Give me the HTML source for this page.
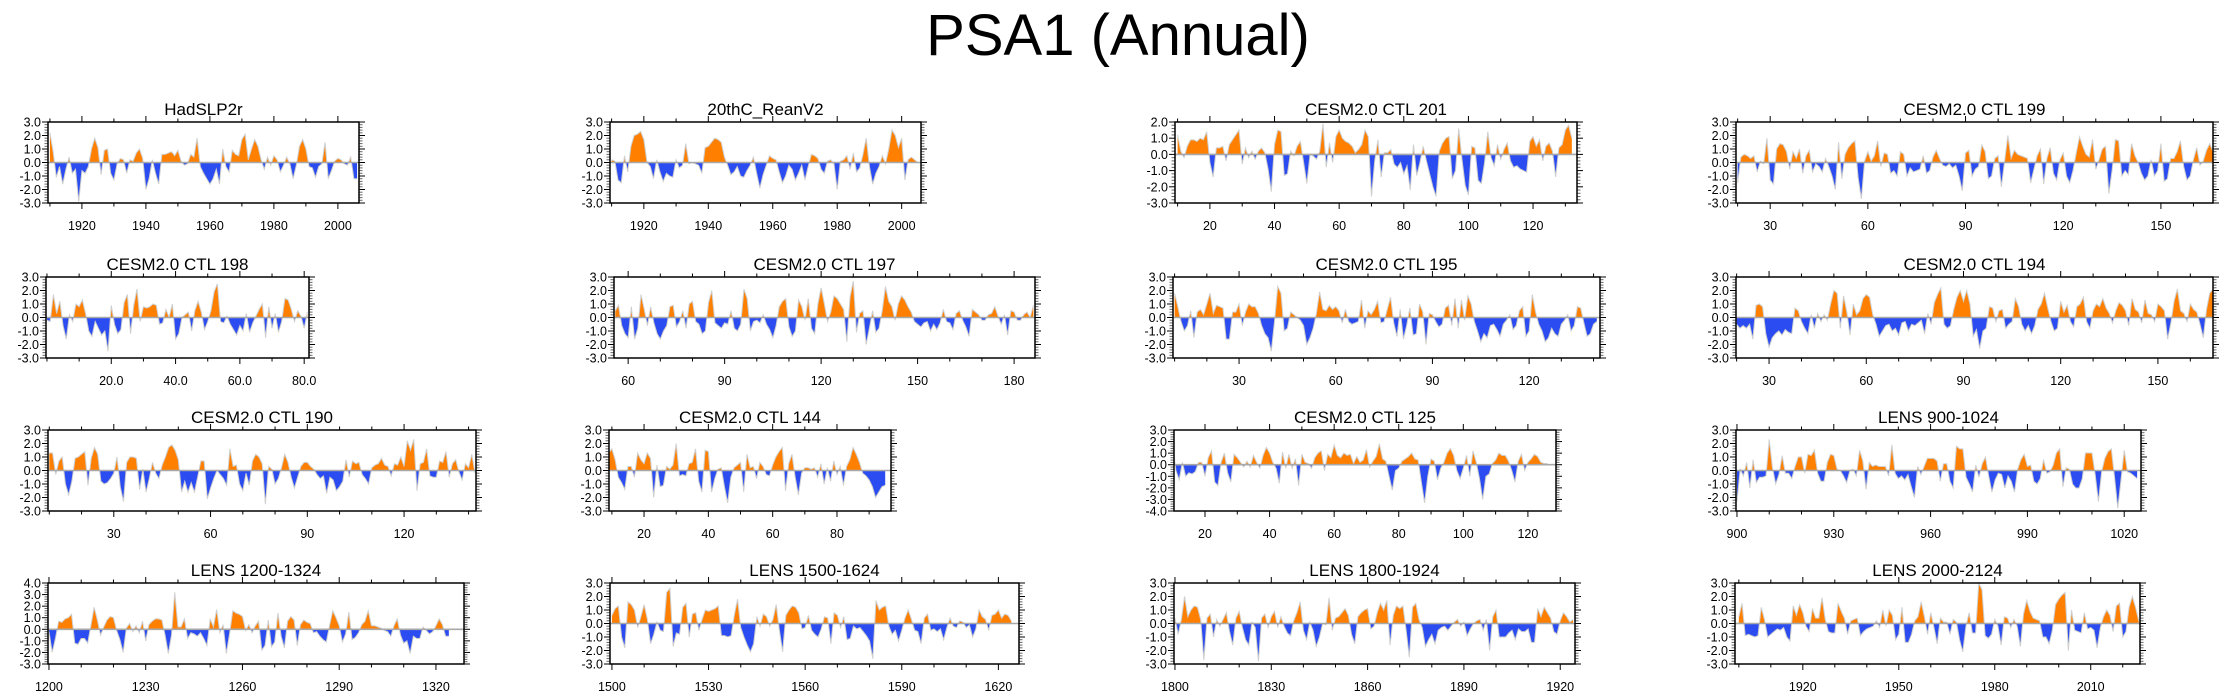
<!DOCTYPE html>
<html><head><meta charset="utf-8"><title>PSA1 (Annual)</title>
<style>
html,body{margin:0;padding:0;background:#fff;}
svg{display:block;font-family:"Liberation Sans",Arial,sans-serif;}
</style></head>
<body>
<svg id="chart" width="2237" height="698" viewBox="0 0 2237 698" xmlns="http://www.w3.org/2000/svg">
<text x="1118" y="55" font-size="58" text-anchor="middle" fill="#000">PSA1 (Annual)</text>
<g id="panels"></g>
</svg>
<script>
// ---- data (one series per panel, annual values) ----
const titles = ["HadSLP2r","20thC_ReanV2","CESM2.0 CTL 201","CESM2.0 CTL 199","CESM2.0 CTL 198","CESM2.0 CTL 197","CESM2.0 CTL 195","CESM2.0 CTL 194","CESM2.0 CTL 190","CESM2.0 CTL 144","CESM2.0 CTL 125","LENS 900-1024","LENS 1200-1324","LENS 1500-1624","LENS 1800-1924","LENS 2000-2124"];
const startYears = [1910,1910,10,20,0,56,10,20,10,9,10,900,1200,1500,1800,1900];
const yRanges = [[-3,3],[-3,3],[-3,2],[-3,3],[-3,3],[-3,3],[-3,3],[-3,3],[-3,3],[-3,3],[-4,3],[-3,3],[-3,4],[-3,3],[-3,3],[-3,3]];
const xRanges = [[1909.4,2006.6],[1909.5,2006],[9.2,133.6],[19.5,166],[-0.3,81.5],[55.6,186.5],[9.5,142],[19.8,167],[9.6,142.3],[9.1,96.8],[10.4,128.7],[899.7,1025.2],[1199.7,1328.7],[1499.4,1626.4],[1799.7,1924.6],[1898.8,2025.4]];
const majorSteps = [20,20,20,30,20,30,30,30,30,20,20,30,30,30,30,30];
const labelDecimals = [0,0,0,0,1,0,0,0,0,0,0,0,0,0,0,0];
const firstLabels = [1920,1920,20,30,20,60,30,30,30,20,20,900,1200,1500,1800,1920];

const v0 = [2.2,0.8,-1.1,-0.3,-1.6,-0.5,0.4,-0.8,-0.5,-2.9,-0.6,-0.8,-0.3,1.0,1.8,1.1,-0.9,0.9,1.0,-0.8,-1.3,-0.1,0.3,0.2,-0.8,0.2,0.1,0.7,1.0,0.3,-2.0,-1.2,0.2,-0.8,-1.6,0.6,0.6,0.7,0.8,0.5,0.9,0.1,-0.2,-0.1,0.6,0.4,1.8,-0.3,-0.8,-1.2,-1.6,-1.2,-0.5,-1.6,1.0,-0.3,-0.7,0.9,0.6,0.5,1.7,2.1,0.2,1.0,1.7,1.2,0.2,-0.5,0.4,-0.2,0.5,0.2,-0.7,-0.2,0.4,-0.1,-1.2,-0.2,1.2,1.7,1.0,-0.3,-0.4,-1.1,-0.3,-0.1,1.5,-1.2,-0.6,0.1,0.3,0.2,-0.1,-0.2,0.4,-1.2,-1.2];
const v1 = [0.2,0.1,-1.3,-1.5,0.5,-0.7,1.2,2.0,2.1,2.3,1.7,0.0,-0.3,-1.2,0.2,-0.7,-1.4,-0.8,-1.0,-1.1,0.2,-0.4,-0.2,1.4,-0.1,0.0,-0.1,-0.2,-0.8,1.1,1.2,1.5,1.8,1.7,1.5,0.4,-0.2,-0.9,-0.7,-0.3,-1.0,-1.1,-0.6,-0.2,0.4,-0.8,-1.9,-0.9,-0.2,0.5,0.3,0.2,-0.7,-1.5,-1.0,-0.2,-0.5,-1.3,-0.8,-0.2,-1.3,-0.3,0.6,0.5,0.3,-0.5,-0.8,0.1,0.2,-0.1,-2.0,0.1,0.2,0.5,-0.5,0.7,-0.7,-0.4,0.6,1.8,-0.3,-1.6,-0.8,-0.3,0.5,-0.1,1.0,2.4,2.0,1.1,1.8,-1.3,0.2,0.4,0.2,0.0];
const v2 = [1.2,0.2,-0.2,0.5,0.9,0.9,0.8,1.0,0.9,1.4,-0.5,-1.4,0.4,0.4,0.5,-0.4,0.6,0.9,1.2,1.5,-0.6,0.4,-0.2,0.2,-0.3,0.2,0.4,0.1,-0.9,-2.3,0.6,1.5,1.4,-1.3,-1.2,0.2,-0.1,0.5,0.8,-0.5,-1.8,0.0,-0.1,-0.3,0.2,1.9,-0.8,0.7,-0.5,1.1,1.5,1.0,0.8,0.7,0.5,0.1,0.3,0.6,1.5,1.1,-2.6,-0.4,0.9,-1.4,0.1,0.1,0.3,-0.6,-0.8,-0.5,-1.2,-0.7,-2.2,0.6,-1.3,-0.5,0.5,-0.4,-1.2,-2.0,-2.6,0.2,0.7,1.0,1.1,-1.5,-1.0,1.6,-0.3,-1.9,-2.5,0.5,0.4,-1.6,-1.8,-0.5,1.4,-0.2,-0.7,0.6,-0.3,0.3,0.7,-0.4,-0.8,-0.7,-0.9,-1.0,-1.1,0.8,1.1,0.5,0.9,-0.4,0.5,0.7,0.2,-1.4,0.4,0.6,1.5,1.8,1.0];
const v3 = [-1.5,0.4,0.6,0.5,0.3,0.5,-0.7,0.1,-0.1,1.8,-1.3,-1.6,1.0,1.4,1.3,0.8,-0.5,0.8,0.3,1.0,-0.8,0.5,0.9,-0.7,-0.1,-0.3,-0.7,0.3,-0.3,-1.0,-2.0,1.5,-1.2,0.6,1.1,1.4,1.6,-1.1,-2.7,0.1,0.8,0.1,0.5,1.6,-0.3,0.7,0.6,-0.8,-0.6,-1.0,0.8,0.6,-1.0,-0.4,-0.7,-0.6,-0.5,0.5,-0.8,-0.6,0.4,0.9,0.3,-0.2,-0.3,-0.1,-0.4,-0.2,-1.0,-2.1,0.7,0.9,-1.0,-0.5,-0.3,1.3,0.8,-1.2,-1.0,0.3,0.5,-1.8,0.1,2.0,0.3,0.9,0.6,0.5,0.4,0.3,-1.5,-0.5,0.5,1.0,-1.6,0.3,1.1,-0.8,-1.3,0.2,0.7,-1.0,-1.5,-0.6,0.7,1.9,1.2,0.6,0.4,1.7,-0.5,0.2,1.0,1.2,-2.3,-0.6,1.7,1.6,-1.0,-0.6,-0.9,1.4,0.5,0.0,-0.8,-1.3,-1.0,0.2,-1.0,-0.6,1.4,-1.4,-1.2,0.3,0.3,0.8,1.6,-0.3,-1.3,-1.0,0.2,1.1,-0.2,0.1,0.9,1.4,0.8];
const v4 = [-0.2,-0.3,1.7,0.3,1.2,-0.6,-1.6,0.2,-0.3,1.0,0.8,1.3,0.3,-1.0,-1.4,-0.3,-0.8,-1.3,-1.0,-2.5,0.9,-0.5,-1.2,-0.9,1.1,1.7,-1.2,0.9,2.1,-0.3,0.8,0.7,0.8,1.0,0.9,-0.5,-0.4,0.6,0.0,1.0,-1.6,-1.2,0.0,0.2,0.4,-1.0,0.5,1.2,0.4,-0.9,-0.3,0.5,1.9,2.5,-0.3,-0.4,0.1,-0.5,-0.9,-1.3,-0.6,-1.0,0.3,-1.1,-0.4,0.1,0.6,1.0,-1.5,0.8,-0.8,0.3,-1.1,-0.3,1.4,1.3,0.6,-0.3,0.5,0.1,-0.8,0.4];
const v5 = [0.5,0.9,-0.6,-1.2,-1.5,0.8,-1.6,-0.8,1.7,0.6,-0.6,0.8,-0.4,-1.2,-1.6,-1.0,-0.6,0.8,0.9,-0.7,-0.3,0.5,-0.8,1.0,1.2,-0.3,-0.5,-1.2,-1.0,1.1,2.0,-0.4,-0.6,-0.8,-0.4,-0.5,0.5,-0.8,-1.0,-0.5,2.1,1.4,-1.0,-0.3,-0.2,-0.4,0.2,-0.5,-0.9,-1.5,-0.6,0.8,1.2,1.4,-0.7,-1.4,-1.0,1.3,0.8,-0.2,1.4,-0.8,-1.2,1.0,2.2,1.0,-0.3,0.4,1.6,1.4,1.0,0.6,-1.8,1.5,2.7,-1.1,0.3,0.5,-2.0,-0.8,0.5,-1.1,-0.8,0.5,2.3,1.2,0.8,-0.2,1.0,1.6,1.3,0.8,0.4,-0.3,-0.5,-0.7,-0.4,-0.3,-1.0,-0.5,-0.9,-0.4,0.6,-0.3,-0.4,-0.9,0.3,0.5,-0.2,-0.7,-1.4,0.6,0.4,0.2,-0.2,-0.2,0.2,0.3,0.8,0.1,-0.5,0.2,-1.3,0.5,0.4,-0.2,-0.2,0.2,0.4,0.0,0.9];
const v6 = [1.8,0.8,-0.3,-1.0,-0.6,0.5,-1.5,0.4,0.6,0.2,1.0,1.8,0.3,0.9,0.8,0.7,-1.6,-1.6,0.4,0.4,1.0,-0.6,0.4,1.0,0.8,0.8,0.3,-0.6,-1.2,-1.5,-2.5,-0.3,2.3,1.8,-1.0,-0.8,0.4,0.2,0.0,-0.2,-0.6,-2.0,-1.5,-0.8,0.3,1.9,0.6,0.5,0.9,0.6,0.8,0.5,-0.4,0.6,-0.3,-0.5,-0.4,-0.3,1.3,-0.8,0.5,0.2,0.6,1.2,-0.4,-0.3,0.6,1.5,-0.4,-1.4,0.6,-1.6,-0.6,0.7,-1.3,-1.2,1.0,0.4,-2.0,0.3,0.2,-0.3,-0.7,-0.5,0.7,0.9,-0.6,1.4,-0.8,1.3,-0.2,1.6,1.0,-0.3,-1.0,-1.8,-1.2,-1.5,-0.6,-0.5,-0.9,-1.4,-0.5,-0.2,0.2,-0.9,-0.6,0.5,0.8,-1.4,-1.0,1.7,0.4,-0.5,-1.0,-1.8,-1.5,-0.8,-1.2,-1.4,-0.5,-0.2,0.2,-1.0,-0.6,0.8,0.7,-0.4,-1.4,-1.2,-0.5,-0.3];
const v7 = [-0.5,-0.8,-0.6,-0.8,-0.5,-1.6,0.9,1.0,0.8,-1.2,-2.2,-1.5,-1.2,-1.0,-1.3,-0.9,-1.1,-1.2,0.7,0.5,-0.3,-0.8,-1.2,0.2,-0.8,0.3,-0.3,0.2,-0.2,1.0,2.0,1.8,-0.8,1.6,0.4,-1.3,1.0,0.2,0.5,1.4,1.7,1.5,0.2,-0.5,-1.4,-1.0,-0.6,-0.5,-1.0,-0.8,-1.3,-0.4,-0.3,-1.0,-0.5,-0.6,-0.4,-0.2,-1.2,0.3,-0.5,1.1,1.7,2.2,-0.5,-0.8,-0.6,0.6,1.5,2.0,1.2,2.0,1.0,-1.4,-0.9,-2.3,-1.0,-0.8,0.8,0.7,-0.3,0.5,0.6,-0.8,-0.5,-0.3,1.4,0.8,-0.5,-1.0,-0.6,-1.2,-0.6,0.6,1.0,1.8,0.7,-0.3,-1.0,-0.8,1.2,0.4,0.9,-0.3,-0.7,0.8,1.0,1.5,-0.3,-0.8,0.5,1.0,0.8,1.4,0.7,0.3,-0.4,0.5,1.1,0.9,0.5,-0.6,1.4,0.6,0.4,-0.4,1.3,0.3,0.2,-0.3,1.0,0.8,0.5,-1.6,-0.4,1.2,2.1,0.5,0.3,-0.3,1.0,0.6,0.4,-0.5,-1.5,0.6,1.8,2.1];
const v8 = [1.3,1.3,-0.3,0.7,1.0,-1.0,-1.8,-0.8,0.9,1.0,1.2,1.4,-1.1,0.9,1.7,1.2,-0.8,-1.0,-0.9,-0.6,-0.2,1.0,-1.2,-2.3,0.6,1.0,1.0,0.9,-1.4,0.1,-1.6,-0.6,0.6,-0.2,-0.6,0.4,1.0,1.7,1.9,1.5,0.8,-1.6,-0.8,-1.6,-0.9,-1.6,-0.5,0.7,0.7,-2.1,-1.3,-0.6,0.0,-0.3,-0.6,-1.1,1.6,0.3,0.4,-1.0,-1.5,-0.2,-1.1,0.7,1.2,1.0,0.5,-2.5,0.3,0.1,-1.0,-0.6,0.2,1.2,0.6,-0.5,-1.3,-0.5,0.3,0.6,0.6,0.3,0.1,-0.3,-0.6,-0.4,-1.7,-0.5,-0.7,-1.5,-1.2,-0.8,0.8,-0.5,0.7,0.5,0.6,-0.3,-0.6,-1.0,0.2,0.4,0.5,0.9,0.4,0.3,-0.4,0.5,0.4,1.0,0.3,2.2,1.5,2.3,-1.5,0.5,0.6,1.6,-0.4,-0.5,-0.5,0.7,0.6,1.4,-0.5,0.5,0.8,-0.1,-0.7,0.5,0.2,1.2,-0.2];
const v9 = [1.3,1.6,0.8,-0.5,-0.9,-1.4,0.3,0.3,-0.5,1.3,0.8,0.5,1.3,0.9,-2.0,0.4,-1.2,-1.1,0.3,0.1,0.4,2.0,-0.4,-0.3,-0.4,0.5,0.6,1.6,-0.8,-1.6,1.5,1.4,-1.6,-0.6,0.1,0.2,-1.2,-2.4,-0.5,0.2,0.4,0.6,-1.6,1.2,0.2,0.3,-0.6,0.6,0.3,-0.3,-0.4,0.4,1.0,1.4,1.7,-1.5,0.5,1.2,-0.5,-1.8,-0.2,0.2,0.2,0.1,0.2,-0.5,0.5,-1.0,0.2,-0.8,0.7,-0.3,0.3,-1.1,0.3,0.8,1.7,1.2,0.6,-0.2,-0.4,-0.7,-1.2,-2.0,-1.6,-1.2,-1.1];
const v10 = [1.6,-0.5,-1.3,0.2,-1.0,-0.7,-0.8,-0.6,0.2,0.2,-1.0,0.6,1.2,-1.5,-1.8,0.2,1.0,-0.7,-1.5,0.9,0.6,0.2,-0.2,0.3,-0.2,0.8,0.2,-0.3,0.8,1.5,1.0,0.2,-0.3,-1.6,1.1,-0.3,0.9,-0.3,0.5,-1.8,0.9,0.2,0.1,-0.3,0.6,1.0,1.2,-0.5,0.9,0.6,1.7,0.8,0.6,1.0,0.8,0.9,0.1,0.7,0.2,0.4,1.3,-0.2,0.3,0.7,1.8,0.5,0.3,-1.0,-2.2,-0.5,-0.3,0.3,0.5,0.7,1.0,0.5,0.4,-1.5,-3.3,-1.0,0.5,0.3,-1.3,-0.3,0.2,1.0,1.4,0.8,-0.5,-1.2,-0.3,0.8,-1.0,1.2,0.2,-1.2,-3.0,-1.0,-0.8,0.1,0.4,1.0,0.8,0.8,0.3,-0.5,-1.5,0.3,0.9,-0.5,0.2,0.5,0.9,0.7,0.2,0.1,0.1];
const v11 = [-2.3,0.1,-0.4,0.6,-1.3,0.8,-0.9,-0.5,-0.5,-0.4,2.3,0.2,-1.0,-0.3,1.1,-0.2,-0.2,-0.6,0.3,1.0,1.0,-0.2,1.2,1.1,1.5,-0.2,-0.8,-0.8,0.6,1.2,1.1,0.1,0.0,-0.4,-0.9,0.0,0.1,-0.4,1.5,0.7,-1.4,0.6,0.3,0.4,0.3,0.3,0.3,-0.4,1.9,-0.2,-0.6,-0.4,-0.7,-0.3,-1.2,-2.0,0.3,-0.3,0.3,0.9,0.9,0.9,0.7,-0.8,0.5,0.5,-0.8,-1.3,1.8,1.6,1.6,-0.5,-1.0,-1.6,0.4,-0.5,0.5,1.0,-0.4,-1.6,-0.7,-0.2,-0.3,-1.3,-0.4,-0.8,-1.6,0.1,0.8,1.2,0.3,0.4,-0.8,-1.0,-0.6,0.8,-0.2,-0.1,0.4,1.3,1.6,-1.2,0.2,0.1,-1.0,-1.3,-1.3,-0.6,1.3,1.3,1.3,-0.3,-2.3,-0.1,0.9,1.4,1.6,-0.5,-2.8,-0.7,1.5,-0.1,-0.2,-0.4,-0.6];
const v12 = [-0.2,-2.0,-0.8,0.7,0.6,0.9,1.0,1.3,-1.2,-1.3,-0.8,-0.8,-1.2,0.3,1.9,0.8,-0.5,0.2,0.8,1.1,1.0,-0.1,-0.9,-2.0,0.1,0.5,-0.2,0.3,-0.3,0.7,-1.0,0.4,0.7,0.9,0.9,0.8,-0.5,-2.1,-0.5,3.2,0.2,0.2,0.9,-0.8,-0.3,-0.4,-0.6,-0.3,-0.8,-1.4,0.9,0.2,1.7,-0.3,0.4,-2.1,-0.4,1.6,1.4,1.3,1.1,-0.1,0.4,-0.3,0.3,0.7,-1.8,-1.4,0.8,-1.5,-1.1,1.4,-0.6,-1.6,0.7,1.1,0.8,-1.4,0.4,0.8,0.6,0.5,-0.3,-0.2,-0.6,-0.9,-1.1,0.3,1.6,1.0,0.3,-1.1,-0.4,1.5,-0.9,-0.7,-0.3,0.4,0.7,1.6,0.3,0.3,0.2,0.1,-0.1,-0.2,-0.6,0.3,0.9,-0.5,-1.2,-1.0,-2.1,-0.6,-0.8,-0.8,0.2,-0.1,-0.4,-0.2,0.3,0.9,0.4,-0.6,-0.6];
const v13 = [0.6,1.1,1.3,-1.0,-1.8,1.6,1.4,1.0,-0.3,0.5,1.4,0.3,-1.5,-0.8,0.1,-0.5,-0.6,2.3,2.6,-1.7,-0.7,-0.8,1.2,1.5,-1.0,0.7,0.8,-0.5,0.3,1.0,0.9,1.0,1.1,1.3,-0.9,-0.9,-1.0,-0.9,0.6,1.8,-0.3,-1.0,-1.6,-2.1,-1.5,0.5,-0.2,0.7,0.5,-0.2,0.3,1.4,-0.5,-2.1,0.6,1.0,1.3,1.2,0.8,-0.4,-0.3,0.6,-0.5,-0.8,-1.0,-0.4,0.5,0.4,-1.5,0.8,0.6,-0.3,0.5,-1.2,-1.1,-0.2,-0.4,-0.3,-0.6,-0.9,-1.3,-2.6,1.7,1.0,1.2,1.3,-0.2,-0.8,-0.5,-1.3,-0.5,0.4,1.0,0.3,-0.5,-0.6,-1.5,0.4,0.7,-0.5,-0.4,-0.6,-0.4,-1.2,-0.3,0.4,-0.2,-0.3,0.2,0.1,-0.3,-0.1,-1.0,-0.4,1.0,0.5,0.3,-0.5,0.6,0.7,1.0,0.4,0.7,0.6,0.2];
const v14 = [0.4,-0.8,0.3,2.0,0.5,1.0,1.3,1.2,0.3,-2.7,0.4,0.7,-1.0,0.3,-0.2,0.3,0.8,-0.6,-1.6,0.4,0.9,-0.3,-1.2,-1.6,0.1,-0.3,-2.8,0.4,0.7,-0.3,0.5,0.9,-0.3,0.5,-0.2,-0.7,-0.9,0.2,0.8,1.6,-0.5,-1.2,0.1,-0.5,-1.7,-1.0,0.0,-0.1,1.9,-0.5,0.4,0.5,0.8,1.1,0.6,-0.8,-1.5,0.5,0.8,1.0,1.1,-0.4,-0.2,0.8,1.5,1.0,1.7,-1.6,0.6,1.3,1.1,1.3,-0.5,-2.5,1.2,1.5,0.3,-0.3,-1.7,-1.2,-0.8,-1.5,-0.5,-0.3,-0.2,-0.5,-0.2,0.1,0.3,-0.2,0.1,-0.9,-0.4,0.0,0.2,0.3,-0.5,0.3,-2.0,0.5,1.0,-1.0,-1.0,-1.0,-0.7,-0.5,-1.2,-0.4,-0.6,-0.6,-0.4,-1.4,-1.4,1.1,0.5,1.2,0.8,0.4,-0.6,-0.8,0.2,0.8,0.5,0.1,0.3];
const v15 = [0.5,1.5,-0.9,-0.8,-0.9,-1.0,-0.9,1.2,0.3,-1.0,-0.8,-0.6,-0.4,-0.5,-0.3,-1.0,-1.3,1.3,0.6,1.4,0.8,-0.2,-0.6,1.1,0.4,0.4,1.9,0.3,-0.6,-0.7,-0.7,1.5,0.9,0.4,-0.8,0.2,0.3,0.4,-0.9,-0.6,-0.4,-0.3,-0.2,0.2,-0.3,1.0,-0.2,1.0,0.6,-1.2,-0.8,1.2,-1.4,-1.4,-0.8,0.2,0.5,1.6,0.5,-0.8,0.8,-0.3,-1.5,0.4,0.1,0.1,-0.8,0.3,0.1,-1.2,-2.1,-0.2,0.8,-0.7,-0.7,3.0,2.5,-0.9,-1.1,-0.8,0.3,-0.2,-1.6,0.5,0.4,-0.3,0.3,-0.2,-1.7,0.7,1.7,0.9,0.4,0.3,0.2,-1.0,-1.0,-1.5,-0.5,1.4,1.8,2.1,2.3,-2.0,1.0,-0.5,-0.6,-0.7,0.8,-0.4,-0.3,-0.5,-1.8,-0.3,0.5,1.0,0.6,-0.6,1.3,1.5,-1.0,-0.6,1.2,2.0,1.2,0.2];
const seriesValues = [v0,v1,v2,v3,v4,v5,v6,v7,v8,v9,v10,v11,v12,v13,v14,v15];

// ---- layout (pixel boxes, not data) ----
const boxLefts = [48,610,1175,1736, 46,614,1173,1736, 48,609,1174,1736, 48,610,1174,1735];
const boxRights = [359,921,1577,2213, 309,1035,1600,2213, 476,891,1556,2141, 464,1019,1575,2140];
const rowTops = [122,277,430,583];
const BOX_H = 81;

const NS = "http://www.w3.org/2000/svg";
function mk(tag, attrs, parent){
  const e = document.createElementNS(NS, tag);
  for (const k in attrs) e.setAttribute(k, attrs[k]);
  parent.appendChild(e);
  return e;
}
const root = document.getElementById("panels");

for (let p = 0; p < 16; p++) {
  const L = boxLefts[p], R = boxRights[p], T = rowTops[Math.floor(p/4)], B = T + BOX_H;
  const [xmin, xmax] = xRanges[p], [ymin, ymax] = yRanges[p];
  const xs = v => L + (v - xmin) / (xmax - xmin) * (R - L);
  const ys = v => B - (v - ymin) / (ymax - ymin) * (B - T);
  const vals = seriesValues[p];
  const years = vals.map((_, i) => startYears[p] + i);

  const g = mk("g", {}, root);
  
  

  const cid = "clip" + p;
  const defs = mk("defs", {}, g);
  const cpUp = mk("clipPath", {id: cid + "u"}, defs);
  mk("rect", {x: L, y: T, width: R - L, height: ys(0) - T}, cpUp);
  const cpDn = mk("clipPath", {id: cid + "d"}, defs);
  mk("rect", {x: L, y: ys(0), width: R - L, height: B - ys(0)}, cpDn);

  const pts = years.map((yr, i) => xs(yr).toFixed(2) + "," + ys(vals[i]).toFixed(2));
  const poly = xs(years[0]).toFixed(2) + "," + ys(0) + " " + pts.join(" ") + " " + xs(years[years.length-1]).toFixed(2) + "," + ys(0);

  const pos = mk("polygon", {points: poly, fill: "#ff8000", "clip-path": "url(#" + cid + "u)"}, g);
  
  
  const neg = mk("polygon", {points: poly, fill: "#2b4cf0", "clip-path": "url(#" + cid + "d)"}, g);
  
  
  const line = mk("polyline", {points: pts.join(" "), fill: "none", stroke: "#cfcfcf", "stroke-width": 1}, g);
  
  
  const zl = mk("line", {x1: L, x2: R, y1: ys(0), y2: ys(0), stroke: "#a8a8a8", "stroke-width": 1.6}, g);
  
  

  // y ticks
  for (let k = Math.round(ymin * 5); k <= Math.round(ymax * 5); k++) {
    const y = ys(k / 5), major = (k % 5 === 0), len = major ? 6 : 3.5;
    const col = major ? "#000" : "#666";
    mk("line", {x1: L - len, x2: L, y1: y, y2: y, stroke: col, "stroke-width": 1}, g);
    mk("line", {x1: R, x2: R + len, y1: y, y2: y, stroke: col, "stroke-width": 1}, g);
    if (major) {
      const t = mk("text", {x: L - 7, y: y + 4.5, "font-size": 12.5, "text-anchor": "end"}, g);
      t.textContent = (k / 5).toFixed(1);
      
      
    }
  }
  // x ticks
  const st = majorSteps[p];
  for (let v = Math.ceil(xmin / 10) * 10; v <= xmax; v += 10) {
    const x = xs(v);
    const major = (v >= firstLabels[p]) && ((v - firstLabels[p]) % st === 0);
    const len = major ? 6 : 3.5;
    mk("line", {x1: x, x2: x, y1: B, y2: B + len, stroke: "#000", "stroke-width": 1}, g);
    mk("line", {x1: x, x2: x, y1: T - len, y2: T, stroke: "#000", "stroke-width": 1}, g);
    if (major) {
      const t = mk("text", {x: x, y: B + 27, "font-size": 12.5, "text-anchor": "middle"}, g);
      t.textContent = v.toFixed(labelDecimals[p]);
      
      
    }
  }
  const box = mk("rect", {x: L, y: T, width: R - L, height: B - T, fill: "none", stroke: "#000", "stroke-width": 1.5}, g);
  
  
  const tt = mk("text", {x: (L + R) / 2, y: T - 7, "font-size": 17, "text-anchor": "middle"}, g);
  tt.textContent = titles[p];
  
  
}
</script>
</body></html>
